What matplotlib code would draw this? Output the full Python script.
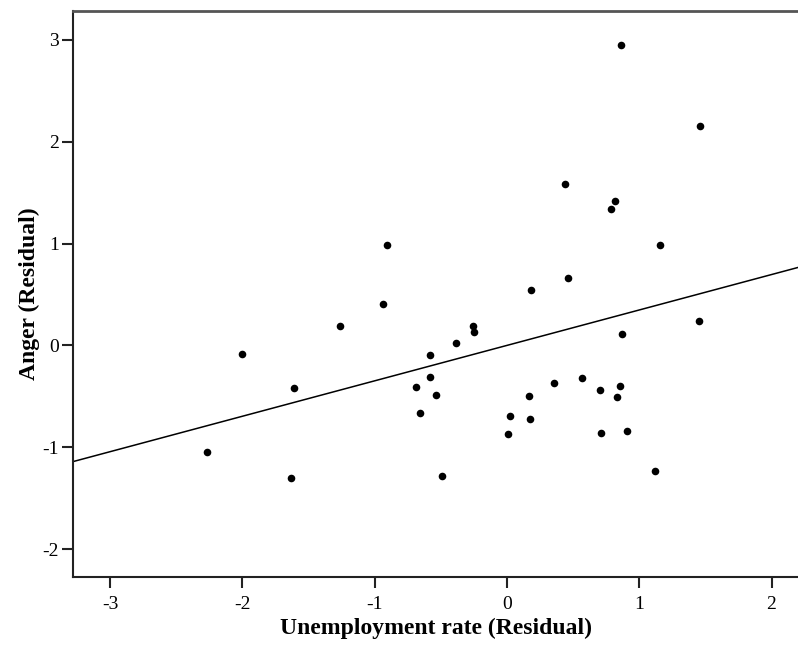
import numpy as np
import matplotlib
matplotlib.use("Agg")
from matplotlib import pyplot as plt

# residuals
unemp = [-2.27, -2.00, -1.61, -1.63, -1.26, -0.94, -0.91, -0.69, -0.66, -0.58,
         -0.58, -0.54, -0.49, -0.385, -0.26, -0.25, 0.185, 0.46, 0.873, 1.45,
         0.023, 0.005, 0.164, 0.177, 0.353, 0.565, 0.704, 0.853, 0.833, 0.714,
         0.908, 1.12, 0.865, 1.458, 0.44, 0.82, 0.79, 1.158]
anger = [-1.05, -0.08, -0.42, -1.30, 0.19, 0.41, 0.99, -0.41, -0.66, -0.31,
         -0.09, -0.49, -1.28, 0.02, 0.19, 0.13, 0.54, 0.66, 0.11, 0.24,
         -0.69, -0.87, -0.50, -0.72, -0.37, -0.32, -0.44, -0.40, -0.51, -0.86,
         -0.84, -1.23, 2.95, 2.155, 1.59, 1.415, 1.34, 0.99]

fit_slope = 0.348
fit_intercept = 0.0

xticks = [-3, -2, -1, 0, 1, 2]
yticks = [-2, -1, 0, 1, 2, 3]

plt.rcParams['font.family'] = ['Liberation Serif', 'DejaVu Serif']

fig = plt.figure(figsize=(7.98, 6.45), dpi=100)
ax = fig.add_axes([0.0915, 0.1054, 0.9085, 0.8776])

xlim = (-3.28, 2.2)
ylim = (-2.275, 3.285)

ax.scatter(unemp, anger, s=30, color='black', zorder=3, linewidths=0)
xs = np.array(xlim)
ax.plot(xs, fit_intercept + fit_slope * xs, color='black', lw=1.1)

ax.set_xlim(*xlim)
ax.set_ylim(*ylim)
ax.set_xticks(xticks)
ax.set_yticks(yticks)
ax.set_xticklabels([str(t) for t in xticks])
ax.set_yticklabels([str(t) for t in yticks])

ax.spines['right'].set_visible(False)
for s in ['left', 'bottom']:
    ax.spines[s].set_linewidth(1.5)
    ax.spines[s].set_color('#222222')
ax.spines['top'].set_linewidth(2)
ax.spines['top'].set_color('#555555')

ax.tick_params(direction='out', length=8, width=1.5, color='#222222',
               labelsize=14, pad=2)
ax.tick_params(axis='x', pad=6)

ax.set_xlabel('Unemployment rate (Residual)', fontsize=17, fontweight='bold', labelpad=3)
ax.set_ylabel('Anger (Residual)', fontsize=17, fontweight='bold', labelpad=2)

fig.savefig('out.png', dpi=100)
